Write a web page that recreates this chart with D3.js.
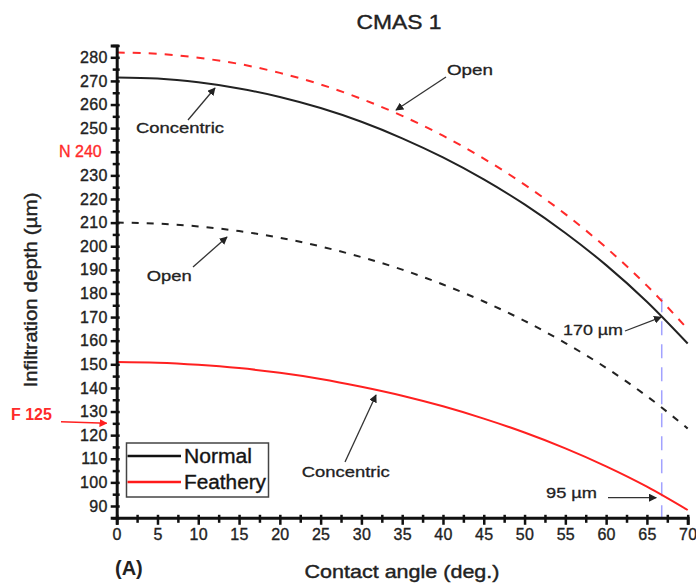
<!DOCTYPE html>
<html><head><meta charset="utf-8">
<script src="https://cdn.jsdelivr.net/npm/d3@7"></script>
<style>
body{margin:0;background:#fff;}
text{font-family:"Liberation Sans",Arial,sans-serif;}
</style></head>
<body><svg id="chart" width="696" height="587"></svg>
<script>
// ---- data ----
const angles = [0,5,10,15,20,25,30,35,40,45,50,55,60,65,70];
const normalConcentric  = [271.5,271.0,269.4,266.8,263.2,258.5,252.7,245.7,237.6,228.3,217.7,205.6,192.0,176.5,158.8];
const normalOpen        = [210.0,209.6,208.4,206.4,203.6,199.9,195.4,190.1,183.8,176.6,168.4,159.0,148.5,136.5,122.8];
const featheryOpen      = [282.0,281.5,279.8,277.2,273.4,268.5,262.4,255.2,246.8,237.1,226.1,213.6,199.4,183.3,164.9];
const featheryConcentric= [151.0,150.7,149.8,148.4,146.4,143.8,140.5,136.7,132.2,127.0,121.1,114.4,106.8,98.2,88.3];
const xTicks = [0,5,10,15,20,25,30,35,40,45,50,55,60,65,70];
const yTicks = [90,100,110,120,130,140,150,160,170,180,190,200,210,220,230,240,250,260,270,280];
const markAngle = 67;
const markTop = 178;
const markNormal = 170;
const markFeathery = 95;

const svg = d3.select("#chart");
const x = d3.scaleLinear().domain([0,70]).range([116.7,687.7]);
const y = d3.scaleLinear().domain([85,285]).range([517.8,45.5]);

// defs: arrowheads
const defs = svg.append("defs");
function marker(id,color){
  defs.append("marker").attr("id",id).attr("viewBox","0 0 10 10")
    .attr("refX",9).attr("refY",5).attr("markerWidth",8).attr("markerHeight",8)
    .attr("markerUnits","userSpaceOnUse").attr("orient","auto")
    .append("path").attr("d","M0,0 L10,5 L0,10 z").attr("fill",color);
}
marker("ab","#222");
marker("ar","#ff2020");

// blue dashed marker line
svg.append("line")
  .attr("x1",x(markAngle)-1.5).attr("x2",x(markAngle)-1.5)
  .attr("y1",y(markTop)).attr("y2",y(85))
  .attr("stroke","#8c8cff").attr("stroke-width",1.5).attr("stroke-dasharray","14,9").attr("opacity",0.8);

// curves
const line = d3.line().x(d=>x(d[0])).y(d=>y(d[1])).curve(d3.curveMonotoneX);
const series = [
  {v:featheryOpen, color:"#ff2a2a", dash:"8,8"},
  {v:normalOpen, color:"#222", dash:"7,8"},
  {v:normalConcentric, color:"#222", dash:null},
  {v:featheryConcentric, color:"#ff2020", dash:null}
];
series.forEach(s=>{
  svg.append("path").datum(angles.map((a,i)=>[a,s.v[i]]))
    .attr("d",line).attr("fill","none").attr("stroke",s.color)
    .attr("stroke-width",2).attr("stroke-dasharray",s.dash);
});

// axes
const yAxis = d3.axisLeft(y).tickValues(yTicks).tickSize(6).tickPadding(3)
  .tickFormat(d=>d===240?"":d);
const gy = svg.append("g").attr("transform",`translate(${x(0)},0)`).call(yAxis);
const yMinor = d3.range(85,286,5).filter(v=>v%10!==0);
svg.append("g").attr("transform",`translate(${x(0)},0)`)
  .call(d3.axisLeft(y).tickValues(yMinor).tickSize(4).tickFormat(""))
  .call(g=>g.select(".domain").remove());
svg.append("g").attr("transform",`translate(${x(0)},0)`)
  .call(d3.axisRight(y).tickValues(d3.range(85,286,5)).tickSize(3).tickFormat(""))
  .call(g=>g.select(".domain").remove());

const xAxis = d3.axisBottom(x).tickValues(xTicks).tickSize(7).tickPadding(4);
const gx = svg.append("g").attr("transform",`translate(0,${y(85)})`).call(xAxis);
const xMinor = d3.range(2.5,70,5);
svg.append("g").attr("transform",`translate(0,${y(85)})`)
  .call(d3.axisBottom(x).tickValues(xMinor).tickSize(5).tickFormat(""))
  .call(g=>g.select(".domain").remove());
svg.append("g").attr("transform",`translate(0,${y(85)})`)
  .call(d3.axisTop(x).tickValues(d3.range(0,71,2.5)).tickSize(3).tickFormat(""))
  .call(g=>g.select(".domain").remove());

svg.selectAll(".domain").attr("stroke","#111").attr("stroke-width",3);
svg.selectAll(".tick line").attr("stroke","#111").attr("stroke-width",2.5);
[gy,gx].forEach(g=>g.selectAll("text").attr("font-size",16).attr("fill","#222")
  .attr("stroke","#222").attr("stroke-width",0.35)
  .attr("font-family","Liberation Sans, Arial, sans-serif").attr("letter-spacing","0.3px"));

// red labels on y axis
svg.append("text").attr("x",x(0)-15).attr("y",y(240)).attr("dy","0.35em")
  .attr("text-anchor","end").attr("font-size",16).attr("fill","#ff2a2a")
  .attr("stroke","#ff2a2a").attr("stroke-width",0.35).text("N 240");
svg.append("text").attr("x",11).attr("y",y(125)-9).attr("dy","0.35em")
  .attr("font-size",16).attr("font-weight","bold").attr("fill","#ff2a2a").text("F 125");
svg.append("line").attr("x1",61).attr("y1",y(125)-1.5).attr("x2",x(0)-10).attr("y2",y(125))
  .attr("stroke","#ff2020").attr("stroke-width",1.5).attr("marker-end","url(#ar)");

// title & axis titles
function heavy(sel){return sel.attr("fill","#222").attr("stroke","#222").attr("stroke-width",0.4);}
heavy(svg.append("text").attr("x",399).attr("y",22).attr("dy","0.35em").attr("text-anchor","middle")
  .attr("font-size",21).attr("textLength",85).attr("lengthAdjust","spacingAndGlyphs")).text("CMAS 1");
heavy(svg.append("text").attr("x",402).attr("y",571).attr("dy","0.35em").attr("text-anchor","middle")
  .attr("font-size",19).attr("textLength",195).attr("lengthAdjust","spacingAndGlyphs")).text("Contact angle (deg.)");
heavy(svg.append("text").attr("transform","translate(30,290) rotate(-90)").attr("dy","0.35em").attr("text-anchor","middle")
  .attr("font-size",19).attr("textLength",195).attr("lengthAdjust","spacingAndGlyphs")).text("Infiltration depth (µm)");
svg.append("text").attr("x",115).attr("y",568).attr("dy","0.35em")
  .attr("font-size",20).attr("font-weight","bold").attr("fill","#222").text("(A)");

// annotations
const notes = [
  {t:"Concentric", x:136, y:128, w:88, ax1:188, ay1:120, ax2:215, ay2:88},
  {t:"Open", x:447, y:70, w:46, ax1:446, ay1:77, ax2:396, ay2:110},
  {t:"Open", x:146.7, y:276, w:45, ax1:193, ay1:267, ax2:227, ay2:237},
  {t:"Concentric", x:301.7, y:471.7, w:88, ax1:345, ay1:462, ax2:376, ay2:395},
  {t:"170 µm", x:563, y:330, w:60, ax1:625, ay1:331, ax2:x(markAngle)-2, ay2:y(markNormal)},
  {t:"95 µm", x:546, y:492.7, w:51, ax1:608, ay1:497.7, ax2:x(markAngle)-7, ay2:497.7}
];
notes.forEach(n=>{
  heavy(svg.append("text").attr("x",n.x).attr("y",n.y).attr("dy","0.35em")
    .attr("font-size",15).attr("textLength",n.w).attr("lengthAdjust","spacingAndGlyphs")).attr("stroke-width",0.3).text(n.t);
  svg.append("line").attr("x1",n.ax1).attr("y1",n.ay1).attr("x2",n.ax2).attr("y2",n.ay2)
    .attr("stroke","#333").attr("stroke-width",1.3).attr("marker-end","url(#ab)");
});

// legend
const lg = svg.append("g");
lg.append("rect").attr("x",126.5).attr("y",443).attr("width",142).attr("height",54)
  .attr("fill","#fff").attr("stroke","#444").attr("stroke-width",1.5);
const legendItems = [{n:"Normal",c:"#111",yy:456},{n:"Feathery",c:"#ff1a1a",yy:482}];
legendItems.forEach(it=>{
  lg.append("line").attr("x1",127.5).attr("x2",181).attr("y1",it.yy).attr("y2",it.yy)
    .attr("stroke",it.c).attr("stroke-width",2.5);
  heavy(lg.append("text").attr("x",184).attr("y",it.yy).attr("dy","0.35em").attr("font-size",20)
    .attr("textLength",it.n==="Normal"?68:82).attr("lengthAdjust","spacingAndGlyphs")).attr("fill","#111").text(it.n);
});
</script></body></html>
